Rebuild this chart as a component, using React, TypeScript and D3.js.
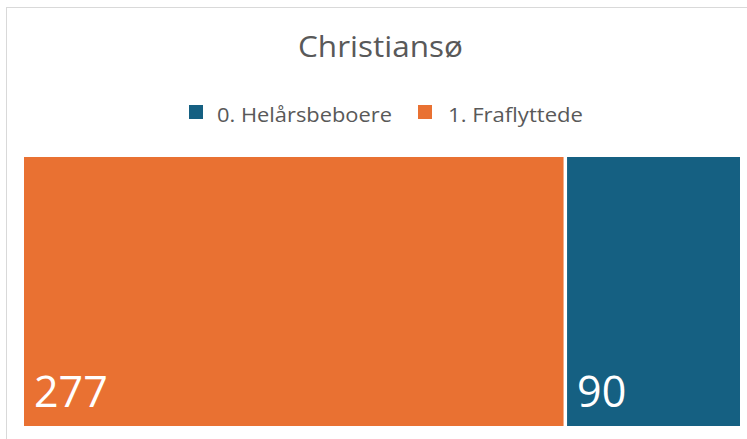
import React from "react";
import * as d3 from "d3";

const categories = ["0. Helårsbeboere", "1. Fraflyttede"];
const values = [90, 277];
const colors = ["#156082", "#E97132"];
const title = "Christiansø";

const W = 747;
const H = 439;
const FONT = "'Open Sans', 'Segoe UI', sans-serif";

export default function App() {
  const data = categories.map((c, i) => ({ name: c, value: values[i], color: colors[i] }));
  const root = d3
    .hierarchy<any>({ children: data })
    .sum((d: any) => d.value || 0)
    .sort((a, b) => (b.value || 0) - (a.value || 0));
  d3.treemap<any>()
    .tile(d3.treemapDice)
    .size([716, 269])
    .paddingInner(3.5)(root);
  const leaves = root.leaves() as any[];

  const legendItems = [
    { name: categories[0], color: colors[0], x: 189 },
    { name: categories[1], color: colors[1], x: 418 },
  ];

  return (
    <svg
      width={W}
      height={H}
      style={{ position: "absolute", left: 0, top: 0, background: "#fff" }}
    >
      <rect x={6.5} y={7.5} width={W + 10} height={H + 10} fill="#fff" stroke="#d9d9d9" strokeWidth={1} />
      <text
        x={380.5}
        y={57}
        textAnchor="middle"
        fontFamily={FONT}
        fontSize={30}
        textLength={165}
        lengthAdjust="spacingAndGlyphs"
        fill="#595959"
      >
        {title}
      </text>
      {legendItems.map((l, i) => (
        <g key={l.name}>
          <rect x={l.x} y={105} width={14} height={14} fill={l.color} />
          <text
            x={l.x + 28 + i * 2}
            y={122}
            fontFamily={FONT}
            fontSize={20}
            textLength={i === 0 ? 175 : 135}
            lengthAdjust="spacingAndGlyphs"
            fill="#595959"
          >
            {l.name}
          </text>
        </g>
      ))}
      <g transform="translate(24,157)">
        {leaves.map((d) => (
          <g key={d.data.name}>
            <rect
              x={d.x0}
              y={d.y0}
              width={d.x1 - d.x0}
              height={d.y1 - d.y0}
              fill={d.data.color}
            />
            <text
              x={d.x0 + 10}
              y={d.y1 - 19}
              fontFamily={FONT}
              fontSize={43}
              fill="#ffffff"
            >
              {d.data.value}
            </text>
          </g>
        ))}
      </g>
    </svg>
  );
}
